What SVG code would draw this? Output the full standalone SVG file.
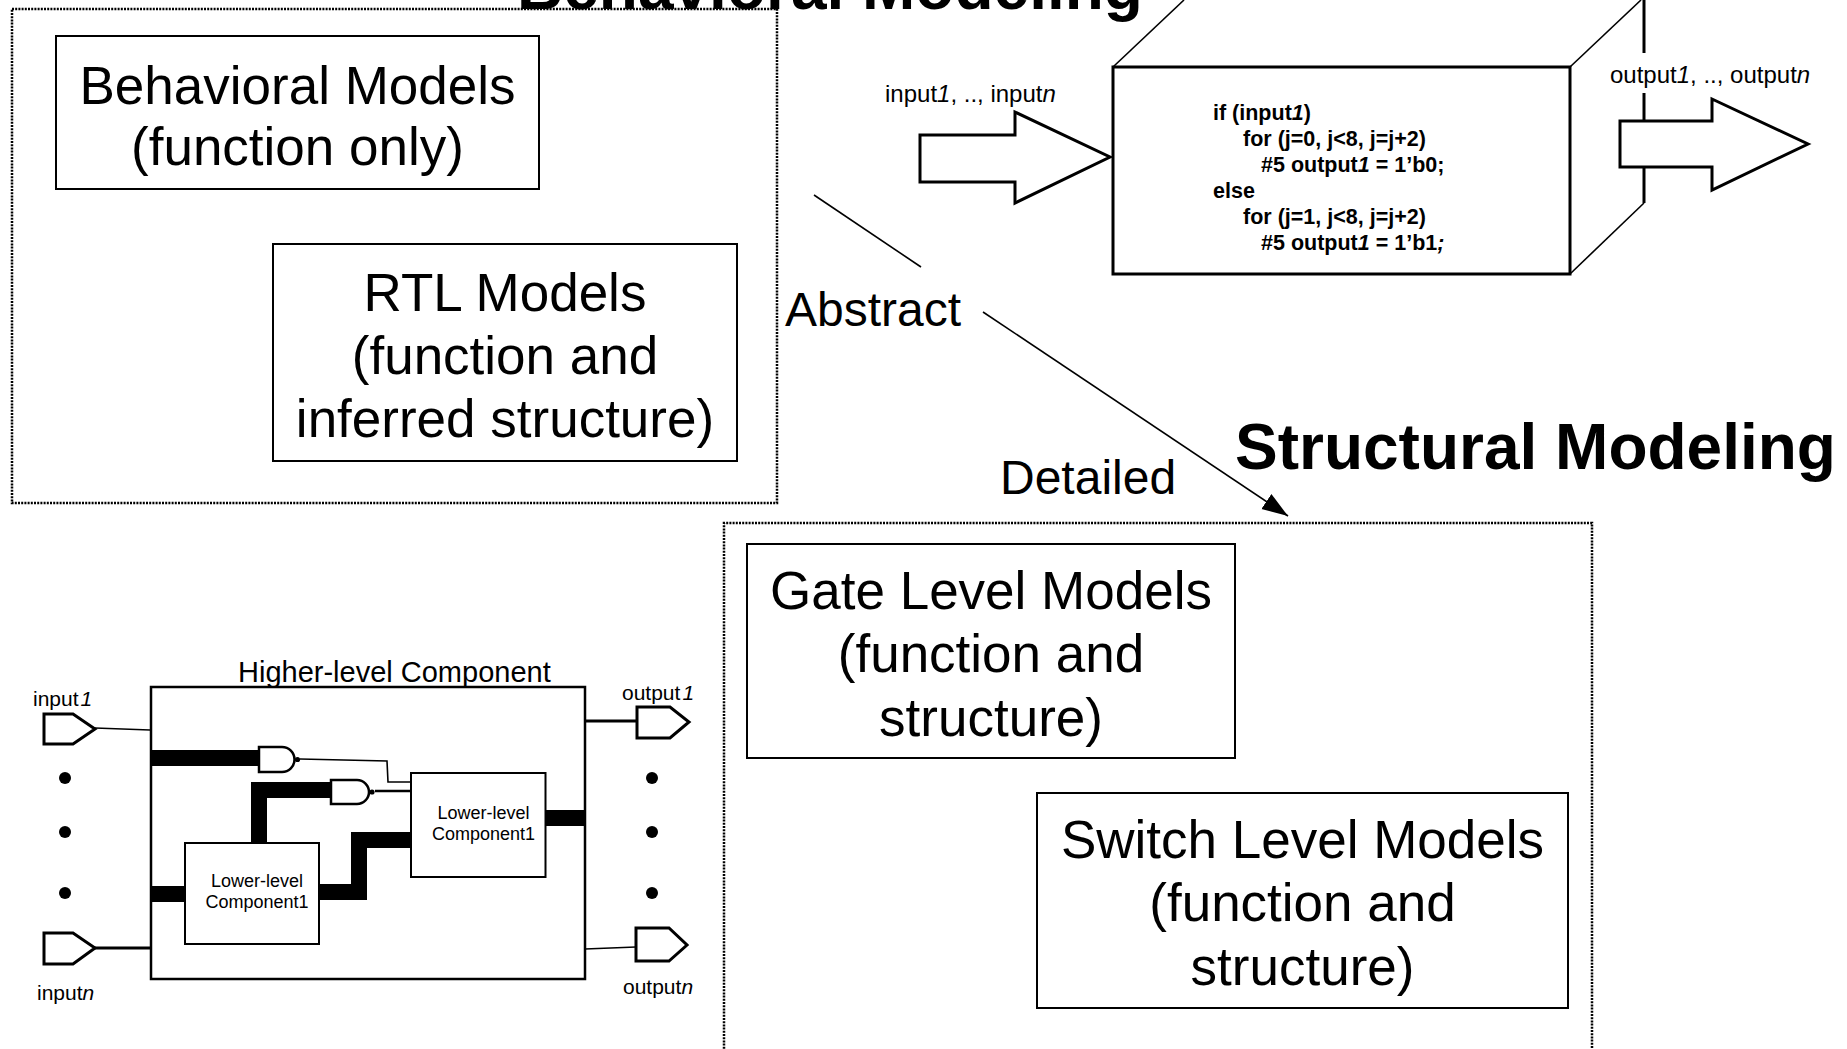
<svg xmlns="http://www.w3.org/2000/svg" width="1847" height="1049" viewBox="0 0 1847 1049">
  <defs>
    <style>
      text { font-family: "Liberation Sans", Arial, sans-serif; fill: #000; }
      .model { font-size: 53px; text-anchor: middle; }
      .title { font-size: 64px; font-weight: bold; }
      .axis { font-size: 48px; }
      .code { font-size: 21.5px; font-weight: bold; }
      .port { font-size: 24px; }
      .pin { font-size: 21px; }
      .sub { font-size: 18px; text-anchor: middle; }
      .box { fill: #fff; stroke: #000; stroke-width: 2; }
      .group { fill: none; stroke: #000; stroke-width: 2.5; stroke-dasharray: 2 1.2; }
      .edge { fill: none; stroke: #000; stroke-width: 3; }
      .thin { fill: none; stroke: #000; stroke-width: 1.6; }
      .bus { fill: none; stroke: #000; stroke-width: 16; stroke-linejoin: miter; }
      .flag { fill: #fff; stroke: #000; stroke-width: 3; }
      .gate { fill: #fff; stroke: #000; stroke-width: 2.5; }
      .bigarrow { fill: #fff; stroke: #000; stroke-width: 3; stroke-linejoin: miter; }
    </style>
    <marker id="head" viewBox="0 0 26 20" refX="26" refY="10" markerWidth="26" markerHeight="20" markerUnits="userSpaceOnUse" orient="auto">
      <path d="M0,1 L26,10 L0,19 Z" fill="#000"/>
    </marker>
  </defs>
  <rect width="1847" height="1049" fill="#fff"/>

  <!-- Behavioral modeling group -->
  <g id="behavioral-group">
    <rect class="group" x="12" y="9" width="765" height="494"/>
  </g>
  <g id="behavioral-title">
    <text class="title" x="517" y="9">Behavioral Modeling</text>
  </g>
  <g id="behavioral-models">
    <rect class="box" x="56" y="36" width="483" height="153"/>
    <text class="model" x="297.5" y="104">Behavioral Models</text>
    <text class="model" x="297.5" y="165">(function only)</text>
  </g>
  <g id="rtl-models">
    <rect class="box" x="273" y="244" width="464" height="217"/>
    <text class="model" x="505" y="311">RTL Models</text>
    <text class="model" x="505" y="374">(function and</text>
    <text class="model" x="505" y="437">inferred structure)</text>
  </g>

  <!-- Behavioral black box with code -->
  <g id="behavior-cube">
    <line class="thin" x1="1113" y1="67" x2="1184" y2="0"/>
    <line class="thin" x1="1570" y1="67" x2="1641" y2="0"/>
    <line class="edge" x1="1644" y1="-2" x2="1644" y2="53"/>
    <line class="edge" x1="1644" y1="93" x2="1644" y2="203"/>
    <line class="thin" x1="1644" y1="203" x2="1570" y2="274"/>
    <rect x="1113" y="67" width="457" height="207" fill="#fff" stroke="#000" stroke-width="3"/>
    <text class="code" x="1213" y="120">if (input<tspan font-style="italic">1</tspan>)</text>
    <text class="code" x="1243" y="146">for (j=0, j&lt;8, j=j+2)</text>
    <text class="code" x="1261" y="172">#5 output<tspan font-style="italic">1</tspan> = 1’b0;</text>
    <text class="code" x="1213" y="198">else</text>
    <text class="code" x="1243" y="224">for (j=1, j&lt;8, j=j+2)</text>
    <text class="code" x="1261" y="250">#5 output<tspan font-style="italic">1</tspan> = 1’b1<tspan font-style="italic">;</tspan></text>
  </g>
  <g id="behavior-input">
    <text class="port" x="885" y="102">input<tspan font-style="italic">1</tspan>, .., input<tspan font-style="italic">n</tspan></text>
    <polygon class="bigarrow" points="920,135 1015,135 1015,112 1110,157 1015,203 1015,182 920,182"/>
  </g>
  <g id="behavior-output">
    <text class="port" x="1610" y="83">output<tspan font-style="italic">1</tspan>, .., output<tspan font-style="italic">n</tspan></text>
    <polygon class="bigarrow" points="1620,121 1712,121 1712,99 1808,144 1712,190 1712,167 1620,167"/>
  </g>

  <!-- Abstraction axis -->
  <g id="connectors">
    <line class="thin" x1="814" y1="195" x2="921" y2="267"/>
    <line class="thin" x1="983" y1="312" x2="1288" y2="516" marker-end="url(#head)"/>
  </g>
  <g id="label-abstract">
    <text class="axis" x="785" y="326">Abstract</text>
  </g>
  <g id="label-detailed">
    <text class="axis" x="1000" y="494">Detailed</text>
  </g>

  <!-- Structural modeling group -->
  <g id="structural-title">
    <text class="title" x="1235" y="469">Structural Modeling</text>
  </g>
  <g id="structural-group">
    <path class="group" d="M724,1052 V523 H1592 V1052"/>
  </g>
  <g id="gate-level-models">
    <rect class="box" x="747" y="544" width="488" height="214"/>
    <text class="model" x="991" y="609">Gate Level Models</text>
    <text class="model" x="991" y="672">(function and</text>
    <text class="model" x="991" y="736">structure)</text>
  </g>
  <g id="switch-level-models">
    <rect class="box" x="1037" y="793" width="531" height="215"/>
    <text class="model" x="1302.5" y="858">Switch Level Models</text>
    <text class="model" x="1302.5" y="921">(function and</text>
    <text class="model" x="1302.5" y="985">structure)</text>
  </g>

  <!-- Structural example circuit -->
  <g id="higher-level-component">
    <text x="238" y="682" font-size="29">Higher-level Component</text>
    <rect x="151" y="687" width="434" height="292" fill="#fff" stroke="#000" stroke-width="2.5"/>
  </g>
  <g id="circuit-wires">
    <line class="bus" x1="151" y1="758" x2="260" y2="758"/>
    <polyline class="bus" points="259,843 259,790 332,790"/>
    <line class="bus" x1="546" y1="818" x2="585" y2="818"/>
    <polyline class="bus" points="319,892 359,892 359,840 411,840"/>
    <line class="bus" x1="151" y1="894" x2="185" y2="894"/>
    <polyline class="thin" points="300,759 387,761 388,782 411,782"/>
    <line x1="375" y1="791" x2="411" y2="791" stroke="#000" stroke-width="2.5"/>
    <line class="thin" x1="95" y1="728" x2="150" y2="730"/>
    <line class="edge" x1="95" y1="948" x2="151" y2="948"/>
    <line class="edge" x1="585" y1="721" x2="637" y2="721"/>
    <line class="thin" x1="585" y1="949" x2="636" y2="947"/>
  </g>
  <g id="gate-1">
    <path class="gate" d="M259,747 H282 A12.5,12.5 0 0 1 282,772 H259 Z"/>
    <circle cx="297.5" cy="759.5" r="2.6" fill="#000"/>
  </g>
  <g id="gate-2">
    <path class="gate" d="M331,780 H357 A12,12 0 0 1 357,804 H331 Z"/>
    <circle cx="372" cy="792" r="2.6" fill="#000"/>
  </g>
  <g id="lower-level-component-a">
    <rect class="box" x="185" y="843" width="134" height="101"/>
    <text class="sub" x="257" y="887">Lower-level</text>
    <text class="sub" x="257" y="908">Component1</text>
  </g>
  <g id="lower-level-component-b">
    <rect class="box" x="411" y="773" width="134.5" height="104"/>
    <text class="sub" x="483.5" y="819">Lower-level</text>
    <text class="sub" x="483.5" y="840">Component1</text>
  </g>
  <g id="port-input1">
    <text class="pin" x="33" y="706">input<tspan font-style="italic" dx="2">1</tspan></text>
    <polygon class="flag" points="44,714 73,714 95,729 73,744 44,744"/>
  </g>
  <g id="port-inputn">
    <polygon class="flag" points="44,933 73,933 95,948 73,964 44,964"/>
    <text class="pin" x="37" y="1000">input<tspan font-style="italic">n</tspan></text>
  </g>
  <g id="port-output1">
    <text class="pin" x="622" y="700">output<tspan font-style="italic" dx="2">1</tspan></text>
    <polygon class="flag" points="637,707 670,707 689,722 670,738 637,738"/>
  </g>
  <g id="port-outputn">
    <polygon class="flag" points="636,928 669,928 687,945 669,961 636,961"/>
    <text class="pin" x="623" y="994">output<tspan font-style="italic">n</tspan></text>
  </g>
  <g id="ellipsis-inputs">
    <circle cx="65" cy="778" r="6"/>
    <circle cx="65" cy="832" r="6"/>
    <circle cx="65" cy="893" r="6"/>
  </g>
  <g id="ellipsis-outputs">
    <circle cx="652" cy="778" r="6"/>
    <circle cx="652" cy="832" r="6"/>
    <circle cx="652" cy="893" r="6"/>
  </g>
</svg>
